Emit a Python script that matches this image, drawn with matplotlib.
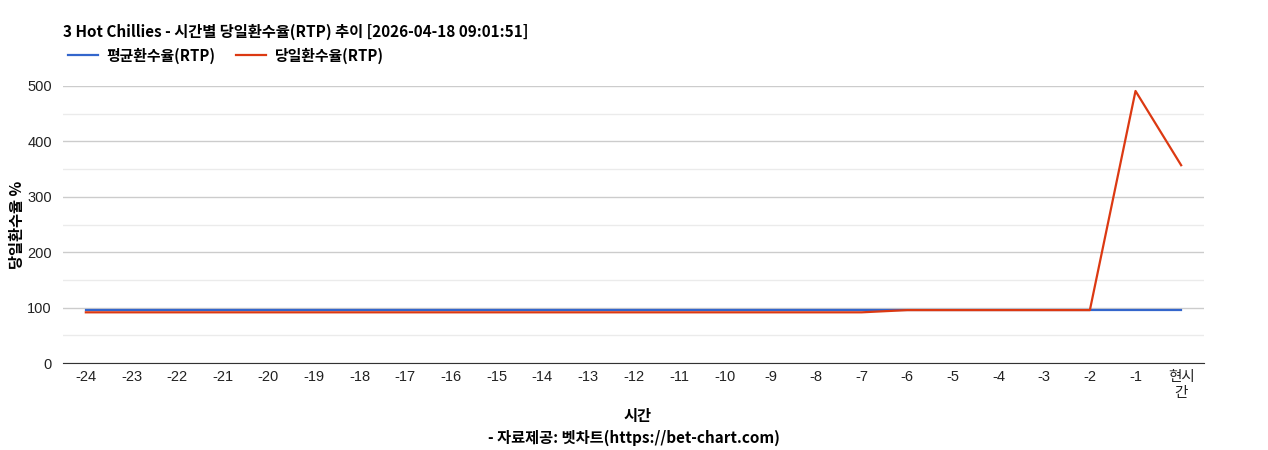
import matplotlib.pyplot as plt

plt.rcParams['font.family'] = ['Noto Sans CJK KR', 'DejaVu Sans']

# datos
horas = ['-24', '-23', '-22', '-21', '-20', '-19', '-18', '-17', '-16', '-15', '-14', '-13',
         '-12', '-11', '-10', '-9', '-8', '-7', '-6', '-5', '-4', '-3', '-2', '-1', '현시\n간']
promedio = [96.5] * 25
diario = [91.5, 91.5, 91.5, 91.5, 91.5, 91.5, 91.5, 91.5, 91.5, 91.5, 91.5, 91.5,
          91.5, 91.5, 91.5, 91.5, 91.5, 91.5, 95.5, 95.5, 95.5, 95.5, 95.5, 491, 357]

fig = plt.figure(figsize=(12.68, 4.5), dpi=100)
ax = fig.add_axes([0.0497, 0.1933, 0.8998, 0.6156])

x = list(range(len(horas)))
ax.plot(x, promedio, color='#3366cc', lw=1.6, label='평균환수율(RTP)')
ax.plot(x, diario, color='#dc3912', lw=1.6, label='당일환수율(RTP)')

ax.set_xlim(-0.5, len(horas) - 0.5)
ax.set_ylim(0, 500)
ax.set_yticks([0, 100, 200, 300, 400, 500])
ax.set_yticks([50, 150, 250, 350, 450], minor=True)
ax.grid(True, axis='y', which='major', color='#cccccc', lw=1)
ax.grid(True, axis='y', which='minor', color='#ebebeb', lw=1)
ax.set_axisbelow(True)
ax.set_xticks(x)
ax.set_xticklabels(horas)
fuente_ejes = ['Liberation Sans', 'Noto Sans CJK KR']
for t in ax.get_xticklabels() + ax.get_yticklabels():
    t.set_family(fuente_ejes)
    t.set_fontsize(10.5)
    t.set_color('#222222')
ax.tick_params(axis='y', which='both', length=0, pad=8)
ax.tick_params(axis='x', length=0, pad=5)
for s in ['top', 'right', 'left']:
    ax.spines[s].set_visible(False)
ax.spines['bottom'].set_color('#333333')

fig.text(0.007, 0.5, '당일환수율 %', rotation=90, va='center', ha='left',
         fontsize=11, fontweight='bold')
fig.text(0.503, 0.064, '시간', ha='center', fontsize=11, fontweight='bold')
fig.text(0.5, 0.017, '- 자료제공: 벳차트(https://bet-chart.com)', ha='center', fontsize=11, fontweight='bold')

fig.text(0.0497, 0.918, '3 Hot Chillies - 시간별 당일환수율(RTP) 추이 [2026-04-18 09:01:51]',
         fontsize=11, fontweight='bold')
fig.legend(loc='upper left', bbox_to_anchor=(0.043, 0.924), ncol=2, frameon=False,
           prop={'size': 10.7, 'weight': 'bold'}, handlelength=2.0, handletextpad=0.6,
           columnspacing=1.4)

plt.savefig('out.png')
